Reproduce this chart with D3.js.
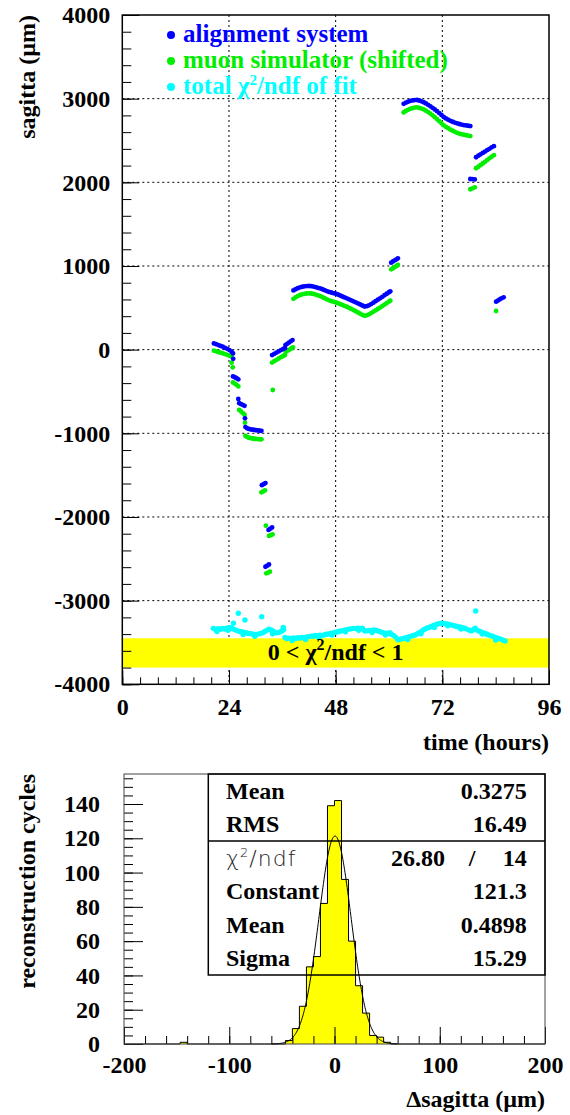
<!DOCTYPE html>
<html>
<head>
<meta charset="utf-8">
<script src="https://cdn.jsdelivr.net/npm/d3@7"></script>
<style>
body { margin: 0; background: #fff; }
svg { display: block; }
</style>
</head>
<body>
<div id="chart"></div>
<script>
// sagitta vs time: [hours, micrometres]
var alignSystem = [
	[20.6,75],[21.1,65],[21.6,55],[22.1,45],[22.6,35],[23.1,22],[23.6,10],[24.1,-5],[24.6,-25],[24.9,-45],[24.95,-110],
	[24.9,-320],[25.3,-330],[25.7,-342],[26.1,-355],
	[26.1,-590],
	[26.3,-640],[26.7,-650],[27.1,-660],[27.5,-672],
	[27.6,-821],
	[27.7,-925],[28.1,-940],[28.5,-948],[28.9,-953],[29.3,-957],[29.7,-960],[30.1,-963],[30.5,-966],[30.9,-968],[31.3,-970],
	[31.4,-1620],[31.8,-1608],[32.2,-1595],
	[32.2,-2595],[32.6,-2582],[33.0,-2568],
	[32.9,-2155],[33.3,-2140],[33.7,-2125],
	[33.7,-65],[34.2,-50],[34.7,-35],[35.2,-20],[35.7,-5],[36.2,8],[36.6,18],
	[36.7,55],[37.1,70],[37.5,85],[37.9,100],[38.3,115],
	[38.5,708],[39.0,722],[39.5,735],[40.0,745],[40.5,752],[41.0,757],[41.5,760],[42.0,761],[42.5,759],[43.0,754],
	[43.5,747],[44.0,739],[44.5,732],[45.0,722],[45.5,711],[46.0,700],[46.5,690],[47.0,683],[47.5,675],[48.0,668],
	[48.5,659],[49.0,647],[49.5,635],[50.0,624],[50.5,613],[51.0,601],[51.5,590],[52.0,578],[52.5,566],[53.0,554],
	[53.5,541],[54.0,528],[54.5,516],[55.0,520],[55.5,530],[56.0,545],[56.5,562],[57.0,580],[57.5,597],[58.0,614],
	[58.5,632],[59.0,650],[59.5,668],[60.0,686],[60.3,697],
	[60.5,1040],[60.9,1055],[61.3,1068],[61.7,1080],[62.0,1092],
	[63.3,2938],[63.8,2952],[64.3,2964],[64.8,2973],[65.3,2979],[65.8,2983],[66.3,2984],[66.8,2978],[67.3,2968],[67.8,2957],
	[68.3,2943],[68.8,2926],[69.3,2909],[69.8,2890],[70.3,2871],[70.8,2851],[71.3,2828],[71.8,2805],[72.3,2781],[72.8,2764],
	[73.3,2749],[73.8,2735],[74.3,2724],[74.8,2714],[75.3,2705],[75.8,2697],[76.3,2690],[76.8,2684],[77.3,2680],[77.8,2676],
	[78.3,2672],
	[78.3,2040],[78.8,2038],[79.3,2035],
	[79.6,2300],[80.1,2318],[80.6,2335],[81.1,2352],[81.6,2368],[82.1,2385],[82.6,2401],[83.1,2418],[83.6,2432],
	[84.1,573],[84.5,586],[84.9,600],[85.3,613],[85.8,626]
];

var muonSim = [
	[20.6,-12],[21.1,-20],[21.6,-28],[22.1,-36],[22.6,-44],[23.1,-53],[23.6,-62],[24.1,-72],[24.6,-85],
	[24.6,-156],[24.85,-211],
	[24.9,-392],[25.3,-405],[25.7,-420],[26.1,-440],
	[26.3,-720],[26.7,-738],[27.1,-758],[27.5,-778],
	[27.6,-873],
	[27.7,-1030],[28.1,-1045],[28.5,-1053],[28.9,-1058],[29.3,-1062],[29.7,-1065],[30.1,-1067],[30.5,-1069],[30.9,-1071],[31.3,-1072],
	[31.3,-1705],[31.7,-1695],[32.1,-1683],
	[32.3,-2104],
	[32.4,-2673],[32.8,-2664],[33.2,-2655],
	[33.0,-2227],[33.4,-2218],[33.8,-2208],
	[33.85,-482],
	[33.7,-155],[34.2,-138],[34.7,-122],[35.2,-106],[35.7,-90],[36.2,-76],[36.6,-64],
	[36.8,-25],[37.2,-12],[37.6,0],[38.0,14],[38.4,28],
	[38.5,608],[39.0,625],[39.5,640],[40.0,653],[40.5,661],[41.0,667],[41.5,671],[42.0,673],[42.5,671],[43.0,666],
	[43.5,658],[44.0,649],[44.5,640],[45.0,628],[45.5,615],[46.0,602],[46.5,590],[47.0,581],[47.5,573],[48.0,564],
	[48.5,555],[49.0,545],[49.5,534],[50.0,523],[50.5,513],[51.0,500],[51.5,487],[52.0,473],[52.5,459],[53.0,445],
	[53.5,430],[54.0,416],[54.5,404],[55.0,410],[55.5,422],[56.0,437],[56.5,455],[57.0,470],[57.5,486],[58.0,503],
	[58.5,521],[59.0,539],[59.5,557],[60.0,575],[60.3,585],
	[60.5,960],[60.9,973],[61.3,987],[61.7,1000],[62.0,1012],
	[63.3,2835],[63.8,2853],[64.3,2867],[64.8,2878],[65.3,2886],[65.8,2893],[66.3,2896],[66.8,2891],[67.3,2882],[67.8,2871],
	[68.3,2857],[68.8,2840],[69.3,2822],[69.8,2801],[70.3,2779],[70.8,2756],[71.3,2731],[71.8,2706],[72.3,2681],[72.8,2663],
	[73.3,2647],[73.8,2631],[74.3,2617],[74.8,2604],[75.3,2592],[75.8,2583],[76.3,2576],[76.8,2569],[77.3,2564],[77.8,2559],
	[78.3,2553],
	[78.3,1917],[78.8,1928],[79.3,1940],
	[79.6,2168],[80.1,2186],[80.6,2205],[81.1,2225],[81.6,2245],[82.1,2266],[82.6,2287],[83.1,2307],[83.6,2325],
	[84.1,462]
];

// chi2/ndf of each fit, drawn inside the sagitta frame
var chi2Points = [
	[20.5,-3331],[21.0,-3345],[21.5,-3336],[22.0,-3342],[22.5,-3333],[23.0,-3340],[23.5,-3330],[24.0,-3322],[24.5,-3326],[25.0,-3340],
	[25.5,-3350],[26.0,-3362],[26.5,-3368],[27.0,-3373],[27.5,-3380],[28.0,-3386],[28.5,-3392],[29.0,-3396],[29.5,-3400],[30.0,-3403],
	[30.5,-3400],[31.0,-3394],[31.5,-3385],[32.0,-3372],[32.5,-3355],[33.0,-3342],[33.5,-3350],[34.0,-3366],[34.5,-3385],[35.0,-3382],
	[35.5,-3374],[36.0,-3360],[36.3,-3345],[36.6,-3440],[37.0,-3452],[37.5,-3448],[38.0,-3455],[38.5,-3447],[39.0,-3452],[39.5,-3444],
	[40.0,-3447],[40.5,-3439],[41.0,-3442],[41.5,-3433],[42.0,-3430],[42.5,-3424],[43.0,-3425],[43.5,-3417],[44.0,-3418],[44.5,-3412],
	[45.0,-3415],[45.5,-3408],[46.0,-3402],[46.5,-3398],[47.0,-3390],[47.5,-3385],[48.0,-3378],[48.5,-3372],[49.0,-3366],[49.5,-3358],
	[50.0,-3352],[50.5,-3346],[51.0,-3340],[51.5,-3337],[52.0,-3332],[52.5,-3334],[53.0,-3328],[53.5,-3333],[54.0,-3330],[54.5,-3360],
	[55.0,-3362],[55.5,-3355],[56.0,-3358],[56.5,-3350],[57.0,-3353],[57.5,-3362],[58.0,-3370],[58.5,-3380],[59.0,-3388],[59.5,-3390],
	[60.0,-3394],[60.5,-3402],[61.0,-3415],[61.5,-3436],[62.0,-3468],[62.5,-3462],[63.0,-3455],[63.5,-3450],[64.0,-3442],[64.5,-3432],
	[65.0,-3424],[65.5,-3416],[66.0,-3408],[66.5,-3392],[67.0,-3376],[67.5,-3360],[68.0,-3342],[68.5,-3330],[69.0,-3320],[69.5,-3310],
	[70.0,-3298],[70.5,-3288],[71.0,-3280],[71.5,-3274],[72.0,-3270],[72.5,-3276],[73.0,-3280],[73.5,-3284],[74.0,-3290],[74.5,-3298],
	[75.0,-3306],[75.5,-3312],[76.0,-3316],[76.5,-3322],[77.0,-3330],[77.5,-3340],[78.0,-3352],[78.5,-3362],[79.0,-3345],[79.4,-3330],
	[79.8,-3352],[80.3,-3365],[80.8,-3377],[81.3,-3386],[81.8,-3396],[82.3,-3408],[82.8,-3418],[83.3,-3426],[83.8,-3436],[84.3,-3446],
	[84.8,-3455],[85.3,-3463],[85.8,-3475],[86.1,-3483],
	[21.3,-3370],[23.8,-3355],[27.2,-3405],[29.8,-3425],[33.8,-3395],[38.2,-3475],[41.2,-3465],[44.2,-3440],[47.2,-3410],
	[50.2,-3372],[53.2,-3355],[56.2,-3380],[59.2,-3410],[64.2,-3465],[67.2,-3395],[70.2,-3320],[73.2,-3300],[76.2,-3340],
	[81.0,-3400],[84.0,-3470],
	[26.1,-3151],[25.0,-3271],[27.6,-3232],[31.35,-3192],[79.5,-3124],[36.2,-3320],[60.2,-3383]
];
var chi2Band = [-3800, -3450];

var timeTicks = [0, 24, 48, 72, 96];
var sagittaTicks = [-4000, -3000, -2000, -1000, 0, 1000, 2000, 3000, 4000];

var legendNames = ["alignment system", "muon simulator (shifted)", "total χ"];
var legendColors = ["#0000ff", "#00ee00", "#00ffff"];

// delta sagitta histogram: bin index k covers [k*w, (k+1)*w], w = 400/60
var histBins   = [-22, -7, -6, -5, -4, -3, -2, -1,   0,  1,  2,  3,  4, 5, 6, 7];
var histCounts = [  1,  2,  9, 22, 45, 51, 82, 139, 142, 96, 60, 34, 18, 5, 4, 1];
var cycleTicks = [0, 20, 40, 60, 80, 100, 120, 140];
var deltaTicks = [-200, -100, 0, 100, 200];

var statsNames  = ["Mean", "RMS"];
var statsValues = ["0.3275", "16.49"];
var chi2ndf     = ["26.80", "14"];
var fitNames    = ["Constant", "Mean", "Sigma"];
var fitValues   = ["121.3", "0.4898", "15.29"];
var fitConstant = 121.3, fitMean = 0.4898, fitSigma = 15.29;

var serif = "'Liberation Serif', 'Times New Roman', serif";

var svg = d3.select("#chart").append("svg")
	.attr("width", 570)
	.attr("height", 1115)
	.attr("font-family", serif)
	.attr("font-weight", "bold");

// ---------- top pad: sagitta vs time ----------
var x = d3.scaleLinear().domain([0, 96]).range([122.3, 549]);
var y = d3.scaleLinear().domain([-4000, 4000]).range([684.3, 15]);

var grid = svg.append("g")
	.attr("stroke", "#000")
	.attr("stroke-width", 1)
	.attr("stroke-dasharray", "2,3");
grid.selectAll("line.gx").data(timeTicks.slice(1, -1)).enter().append("line")
	.attr("class", "gx")
	.attr("x1", function(d) { return x(d); })
	.attr("x2", function(d) { return x(d); })
	.attr("y1", y(4000))
	.attr("y2", y(-4000));
grid.selectAll("line.gy").data(sagittaTicks.slice(1, -1)).enter().append("line")
	.attr("class", "gy")
	.attr("x1", x(0))
	.attr("x2", x(96))
	.attr("y1", function(d) { return y(d); })
	.attr("y2", function(d) { return y(d); });

svg.append("rect")
	.attr("x", x(0))
	.attr("y", y(chi2Band[1]))
	.attr("width", x(96) - x(0))
	.attr("height", y(chi2Band[0]) - y(chi2Band[1]))
	.attr("fill", "#ffff00");

function drawDots(data, color, r) {
	svg.append("g").selectAll("circle").data(data).enter().append("circle")
		.attr("cx", function(d) { return x(d[0]); })
		.attr("cy", function(d) { return y(d[1]); })
		.attr("r", r)
		.attr("fill", color);
}
drawDots(chi2Points, legendColors[2], 2.7);
drawDots(muonSim, legendColors[1], 2.4);
drawDots(alignSystem, legendColors[0], 2.4);

// band label
var bandLabel = svg.append("text")
	.attr("x", x(48))
	.attr("y", 660)
	.attr("text-anchor", "middle")
	.attr("font-size", 24)
	.attr("fill", "#000");
bandLabel.append("tspan").text("0 < χ");
bandLabel.append("tspan").attr("dy", -10).attr("font-size", 16).text("2");
bandLabel.append("tspan").attr("dy", 10).text("/ndf < 1");

// legend
var legend = svg.append("g");
legendNames.forEach(function(name, i) {
	var ly = 42 + i * 26;
	legend.append("circle")
		.attr("cx", 171).attr("cy", ly - 7).attr("r", 4)
		.attr("fill", legendColors[i]);
	var t = legend.append("text")
		.attr("x", 183).attr("y", ly)
		.attr("font-size", 25)
		.attr("fill", legendColors[i])
		.text(name);
	if (i == 2) {
		t.append("tspan").attr("dy", -9).attr("font-size", 15).text("2");
		t.append("tspan").attr("dy", 9).text("/ndf of fit");
	}
});

function styleAxis(g) {
	g.select(".domain").remove();
	g.attr("font-family", serif).attr("font-size", 24).attr("font-weight", "bold");
	g.selectAll("line").attr("stroke", "#000");
}

// major + minor ticks, drawn inside the frame
svg.append("g")
	.attr("transform", "translate(" + x(0) + ",0)")
	.call(d3.axisLeft(y).tickValues(d3.range(-4000, 4001, 200)).tickSize(-9).tickSizeOuter(0).tickFormat(""))
	.call(styleAxis);
svg.append("g")
	.attr("transform", "translate(" + x(0) + ",0)")
	.call(d3.axisLeft(y).tickValues(sagittaTicks).tickSize(-17).tickSizeOuter(0).tickPadding(12)
		.tickFormat(function(d) { return String(d); }))
	.call(styleAxis);
svg.append("g")
	.attr("transform", "translate(0," + y(-4000) + ")")
	.call(d3.axisBottom(x).tickValues(d3.range(0, 97, 4)).tickSize(-7).tickSizeOuter(0).tickFormat(""))
	.call(styleAxis);
svg.append("g")
	.attr("transform", "translate(0," + y(-4000) + ")")
	.call(d3.axisBottom(x).tickValues(timeTicks).tickSize(-14).tickSizeOuter(0).tickPadding(14)
		.tickFormat(function(d) { return String(d); }))
	.call(styleAxis);

svg.append("rect")
	.attr("x", x(0)).attr("y", y(4000))
	.attr("width", x(96) - x(0)).attr("height", y(-4000) - y(4000))
	.attr("fill", "none").attr("stroke", "#000").attr("stroke-width", 1.5);

svg.append("text")
	.attr("transform", "translate(35," + y(4000) + ") rotate(-90)")
	.attr("text-anchor", "end")
	.attr("font-size", 24)
	.text("sagitta (µm)");
svg.append("text")
	.attr("x", x(96)).attr("y", 750)
	.attr("text-anchor", "end")
	.attr("font-size", 24)
	.text("time (hours)");

// ---------- bottom pad: delta sagitta histogram ----------
var hx = d3.scaleLinear().domain([-200, 200]).range([124, 545]);
var hy = d3.scaleLinear().domain([0, 157.5]).range([1044, 774]);
var binWidth = 400 / 60;

var steps = [];
for (var k = -30; k < 30; k++) {
	var idx = histBins.indexOf(k);
	var c = idx < 0 ? 0 : histCounts[idx];
	steps.push([k * binWidth, c]);
	steps.push([(k + 1) * binWidth, c]);
}
svg.append("path")
	.datum(steps)
	.attr("fill", "#ffff00")
	.attr("d", d3.area()
		.x(function(d) { return hx(d[0]); })
		.y0(hy(0))
		.y1(function(d) { return hy(d[1]); }));
svg.append("path")
	.datum(steps)
	.attr("fill", "none")
	.attr("stroke", "#000")
	.attr("stroke-width", 1)
	.attr("d", d3.line()
		.x(function(d) { return hx(d[0]); })
		.y(function(d) { return hy(d[1]); }));

svg.append("g")
	.attr("transform", "translate(" + hx(-200) + ",0)")
	.call(d3.axisLeft(hy).tickValues(d3.range(0, 156, 5)).tickSize(-9).tickSizeOuter(0).tickFormat(""))
	.call(styleAxis);
svg.append("g")
	.attr("transform", "translate(" + hx(-200) + ",0)")
	.call(d3.axisLeft(hy).tickValues(cycleTicks).tickSize(-19).tickSizeOuter(0).tickPadding(24)
		.tickFormat(function(d) { return String(d); }))
	.call(styleAxis);
svg.append("g")
	.attr("transform", "translate(0," + hy(0) + ")")
	.call(d3.axisBottom(hx).tickValues(d3.range(-200, 201, 20)).tickSize(-8).tickSizeOuter(0).tickFormat(""))
	.call(styleAxis);
svg.append("g")
	.attr("transform", "translate(0," + hy(0) + ")")
	.call(d3.axisBottom(hx).tickValues(deltaTicks).tickSize(-17).tickSizeOuter(0).tickPadding(12)
		.tickFormat(function(d) { return String(d); }))
	.call(styleAxis);

svg.append("rect")
	.attr("x", hx(-200)).attr("y", hy(157.5))
	.attr("width", hx(200) - hx(-200)).attr("height", hy(0) - hy(157.5))
	.attr("fill", "none").attr("stroke", "#444").attr("stroke-width", 1);

// stats box
var box = { left: 208.3, right: hx(200), top: hy(157.5), mid: 841, bottom: 975 };
var rowY = [798.5, 832, 865.5, 899, 932.5, 966];
var stats = svg.append("g");
stats.append("rect")
	.attr("x", box.left).attr("y", box.top)
	.attr("width", box.right - box.left).attr("height", box.bottom - box.top)
	.attr("fill", "none").attr("stroke", "#000").attr("stroke-width", 1.5);
stats.append("line")
	.attr("x1", box.left).attr("x2", box.right)
	.attr("y1", box.mid).attr("y2", box.mid)
	.attr("stroke", "#000").attr("stroke-width", 1.5);

statsNames.forEach(function(n, i) {
	stats.append("text").attr("x", 226).attr("y", rowY[i]).attr("font-size", 24).text(n);
	stats.append("text").attr("x", 526.7).attr("y", rowY[i]).attr("font-size", 24)
		.attr("text-anchor", "end").text(statsValues[i]);
});
var c2 = stats.append("text")
	.attr("x", 226).attr("y", rowY[2])
	.attr("font-family", "'DejaVu Sans', sans-serif")
	.attr("font-weight", 200)
	.attr("font-size", 22)
	.attr("letter-spacing", 1)
	.attr("fill", "#222");
c2.append("tspan").text("χ");
c2.append("tspan").attr("dy", -9).attr("font-size", 13).text("2");
c2.append("tspan").attr("dy", 9).text("/ndf");
stats.append("text").attr("x", 445).attr("y", rowY[2]).attr("font-size", 24)
	.attr("text-anchor", "end").text(chi2ndf[0]);
stats.append("text").attr("x", 472).attr("y", rowY[2]).attr("font-size", 24)
	.attr("text-anchor", "middle").text("/");
stats.append("text").attr("x", 526.7).attr("y", rowY[2]).attr("font-size", 24)
	.attr("text-anchor", "end").text(chi2ndf[1]);
fitNames.forEach(function(n, i) {
	stats.append("text").attr("x", 226).attr("y", rowY[i + 3]).attr("font-size", 24).text(n);
	stats.append("text").attr("x", 526.7).attr("y", rowY[i + 3]).attr("font-size", 24)
		.attr("text-anchor", "end").text(fitValues[i]);
});

// gaussian fit curve
svg.append("path")
	.datum(d3.range(-60, 60.01, 0.5))
	.attr("fill", "none")
	.attr("stroke", "#000")
	.attr("stroke-width", 1)
	.attr("d", d3.line()
		.x(function(d) { return hx(d); })
		.y(function(d) { return hy(fitConstant * Math.exp(-0.5 * Math.pow((d - fitMean) / fitSigma, 2))); }));

svg.append("text")
	.attr("transform", "translate(35," + hy(157.5) + ") rotate(-90)")
	.attr("text-anchor", "end")
	.attr("font-size", 24)
	.text("reconstruction cycles");
svg.append("text")
	.attr("x", hx(200)).attr("y", 1107)
	.attr("text-anchor", "end")
	.attr("font-size", 24)
	.text("Δsagitta (µm)");
</script>
</body>
</html>
